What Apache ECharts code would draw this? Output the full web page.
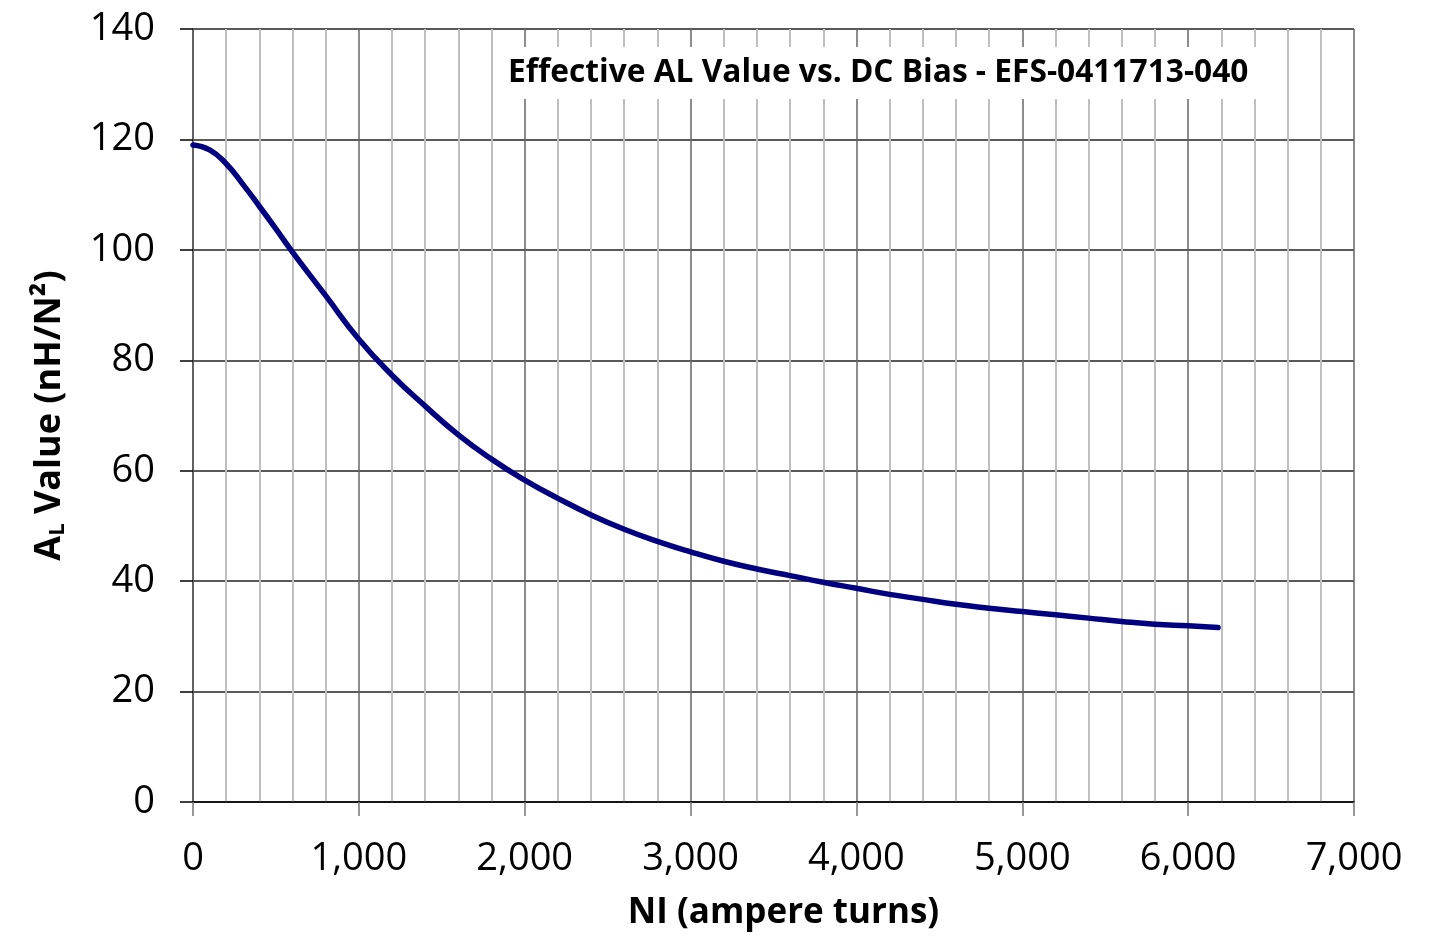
<!DOCTYPE html>
<html>
<head>
<meta charset="utf-8">
<script src="https://cdn.jsdelivr.net/npm/echarts@6/dist/echarts.min.js"></script>
<style>
html,body{margin:0;padding:0;background:#fff;}
#chart{width:1438px;height:936px;}
</style>
</head>
<body>
<div id="chart"></div>
<script>
const niValues = [0,100,200,300,400,500,600,800,1000,1200,1400,1600,1800,2000,2200,2400,2600,2800,3000,3200,3400,3600,3800,4000,4200,4400,4600,4800,5000,5200,5400,5600,5800,6000,6180];
const alValues = [119.0,118.1,115.6,111.9,107.9,103.8,99.6,91.7,83.8,77.3,71.7,66.5,62.1,58.3,55.0,52.0,49.4,47.2,45.3,43.6,42.2,41.0,39.8,38.7,37.6,36.7,35.8,35.1,34.5,33.9,33.3,32.7,32.2,31.9,31.6];
const chartTitle = 'Effective AL Value vs. DC Bias - EFS-0411713-040';
const xAxisTitle = 'NI (ampere turns)';

const FONT = 'Open Sans';
const chart = echarts.init(document.getElementById('chart'));
chart.setOption({
  backgroundColor: '#fff',
  animation: false,
  title: {
    text: chartTitle,
    left: 498, top: 47,
    backgroundColor: '#fff',
    padding: [10, 12, 10, 10],
    textStyle: {fontFamily: FONT, fontWeight: 'bold', fontSize: 31.7, color: '#000'}
  },
  grid: {left: 193, right: 84, top: 29, bottom: 134},
  xAxis: {
    type: 'value', min: 0, max: 7000, interval: 1000,
    name: xAxisTitle, nameLocation: 'middle', nameGap: 94,
    nameTextStyle: {fontFamily: FONT, fontWeight: 'bold', fontSize: 35, color: '#000', padding: [0, 0, 0, 20]},
    axisLine: {show: true, lineStyle: {color: '#000', width: 1.5}},
    axisTick: {show: true, length: 14, lineStyle: {color: '#777', width: 1.5}},
    axisLabel: {fontFamily: FONT, fontSize: 38, color: '#000', margin: 38,
      formatter: v => v.toLocaleString('en-US')},
    splitLine: {show: true, lineStyle: {color: '#666', width: 1.5}},
    minorTick: {show: true, splitNumber: 5, length: 0},
    minorSplitLine: {show: true, lineStyle: {color: '#bfbfbf', width: 2}}
  },
  yAxis: {
    type: 'value', min: 0, max: 140, interval: 20,
    name: '{a|A}{s|L}{a| Value (nH/N²)}', nameLocation: 'middle', nameGap: 124, nameRotate: 90,
    nameTextStyle: {
      rich: {
        a: {fontFamily: FONT, fontWeight: 'bold', fontSize: 36, color: '#000'},
        s: {fontFamily: FONT, fontWeight: 'bold', fontSize: 22, color: '#000', padding: [16, 0, 0, 0]}
      }
    },
    axisLine: {show: true, lineStyle: {color: '#555', width: 1.5}},
    axisTick: {show: true, length: 13, lineStyle: {color: '#000', width: 1.5}},
    axisLabel: {fontFamily: FONT, fontSize: 38, color: '#000', margin: 38},
    splitLine: {show: true, lineStyle: {color: '#222', width: 1.5}}
  },
  series: [{
    type: 'line',
    data: niValues.map((x, i) => [x, alValues[i]]),
    smooth: 0.5,
    showSymbol: false,
    lineStyle: {color: '#000080', width: 5.5, cap: 'round'},
    z: 5
  }]
});
</script>
</body>
</html>
